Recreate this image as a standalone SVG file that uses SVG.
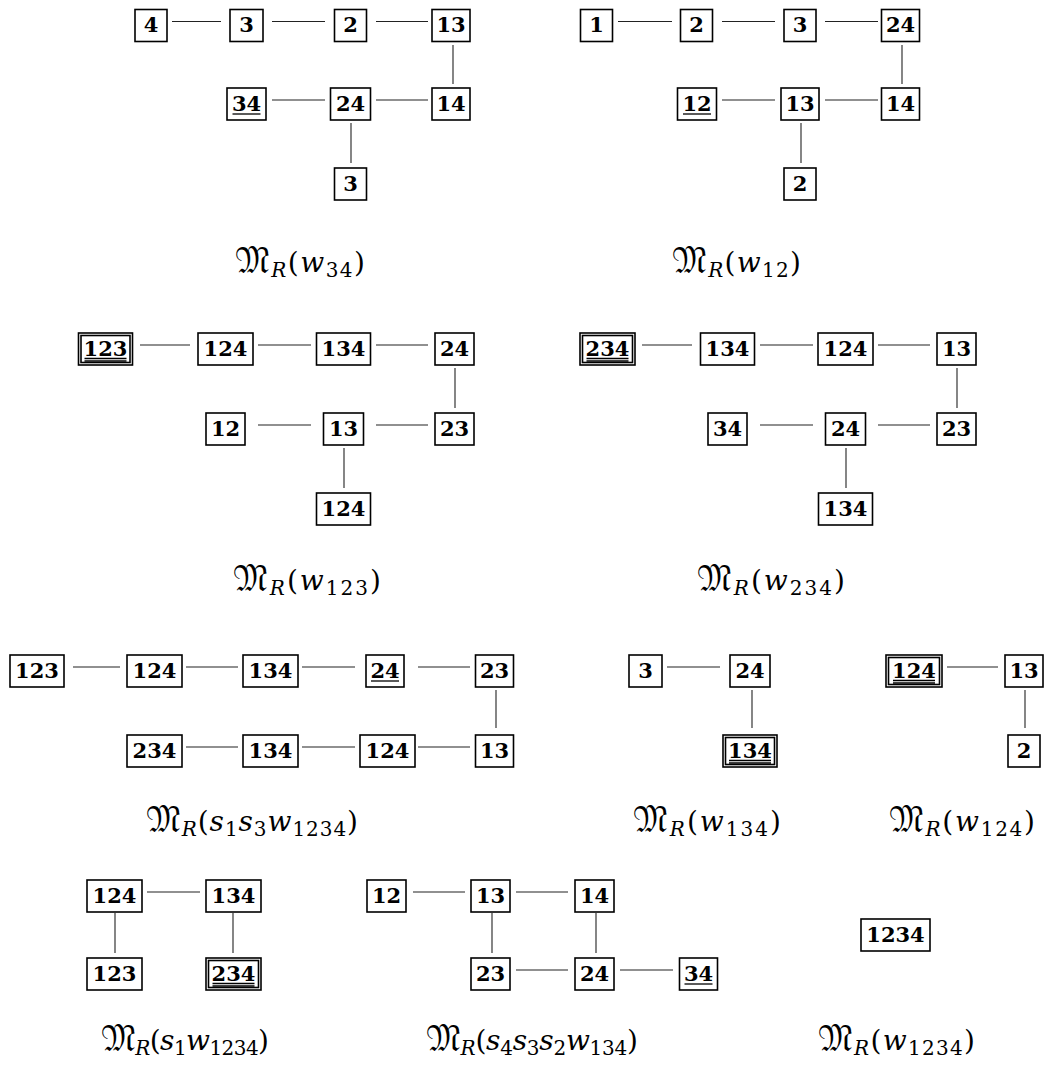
<svg xmlns="http://www.w3.org/2000/svg" width="1044" height="1070" viewBox="0 0 1044 1070">
<style>
.b{fill:#fff;stroke:#000;stroke-width:1.6}
.t{font-family:"DejaVu Serif",serif;font-weight:bold;font-size:21px;text-anchor:middle;fill:#000}
.u{stroke:#000;stroke-width:1.3}
.c line{stroke:#222;stroke-width:1.1}
.lab{font-family:"DejaVu Serif",serif;font-size:28px;fill:#000}
.it{font-style:italic}
.s{font-size:20px}
.fk{font-family:"DejaVu Serif","DejaVu Sans","Noto Sans Math",serif;font-size:35px}
</style>
<rect width="1044" height="1070" fill="#fff"/>
<g id="connectors" class="c">
<line x1="172" y1="21.5" x2="221" y2="21.5"/><line x1="272" y1="21.5" x2="325" y2="21.5"/><line x1="376" y1="21.5" x2="428" y2="21.5"/>
<line x1="272" y1="100" x2="325" y2="100"/><line x1="376" y1="100" x2="428" y2="100"/>
<line x1="453" y1="45" x2="453" y2="84"/><line x1="351" y1="123" x2="351" y2="163"/>
<line x1="618" y1="21.5" x2="672" y2="21.5"/><line x1="722" y1="21.5" x2="775" y2="21.5"/><line x1="825" y1="21.5" x2="878" y2="21.5"/>
<line x1="722" y1="100" x2="775" y2="100"/><line x1="825" y1="100" x2="878" y2="100"/>
<line x1="902" y1="45" x2="902" y2="84"/><line x1="801" y1="123" x2="801" y2="163"/>
<line x1="140" y1="345" x2="190" y2="345"/><line x1="258" y1="345" x2="311" y2="345"/><line x1="376" y1="345" x2="428" y2="345"/>
<line x1="258" y1="425" x2="311" y2="425"/><line x1="376" y1="425" x2="428" y2="425"/>
<line x1="455" y1="368" x2="455" y2="408"/><line x1="344" y1="448" x2="344" y2="488"/>
<line x1="642" y1="345" x2="692" y2="345"/><line x1="760" y1="345" x2="813" y2="345"/><line x1="878" y1="345" x2="930" y2="345"/>
<line x1="760" y1="425" x2="813" y2="425"/><line x1="878" y1="425" x2="930" y2="425"/>
<line x1="957" y1="368" x2="957" y2="408"/><line x1="846" y1="448" x2="846" y2="488"/>
<line x1="73" y1="667" x2="120" y2="667"/><line x1="186" y1="667" x2="238" y2="667"/><line x1="302" y1="667" x2="355" y2="667"/><line x1="418" y1="667" x2="470" y2="667"/>
<line x1="186" y1="747" x2="238" y2="747"/><line x1="302" y1="747" x2="355" y2="747"/><line x1="418" y1="747" x2="470" y2="747"/>
<line x1="496" y1="690" x2="496" y2="728"/>
<line x1="667" y1="667" x2="720" y2="667"/><line x1="752" y1="690" x2="752" y2="728"/>
<line x1="947" y1="667" x2="998" y2="667"/><line x1="1025" y1="690" x2="1025" y2="728"/>
<line x1="147" y1="892" x2="200" y2="892"/><line x1="115" y1="913" x2="115" y2="953"/><line x1="233" y1="913" x2="233" y2="953"/>
<line x1="413" y1="892" x2="465" y2="892"/><line x1="516" y1="892" x2="568" y2="892"/>
<line x1="516" y1="970" x2="568" y2="970"/><line x1="620" y1="970" x2="673" y2="970"/>
<line x1="492" y1="913" x2="492" y2="953"/><line x1="596" y1="913" x2="596" y2="953"/>
</g>
<g id="a4"><rect class="b" x="135" y="9.5" width="32" height="32"/><text class="t" x="151" y="32">4</text></g>
<g id="a3"><rect class="b" x="230" y="9.5" width="33" height="32"/><text class="t" x="246.5" y="32">3</text></g>
<g id="a2"><rect class="b" x="334.5" y="9.5" width="32" height="32"/><text class="t" x="350.5" y="32">2</text></g>
<g id="a13"><rect class="b" x="432" y="9.5" width="38" height="32"/><text class="t" x="451" y="32">13</text></g>
<g id="a34"><rect class="b" x="227" y="88" width="39" height="32"/><text class="t" x="246.5" y="110.5">34</text><line class="u" x1="232.5" y1="114" x2="260.5" y2="114"/></g>
<g id="a24"><rect class="b" x="330.5" y="88" width="40" height="32"/><text class="t" x="350.5" y="110.5">24</text></g>
<g id="a14"><rect class="b" x="432" y="88" width="38" height="32"/><text class="t" x="451" y="110.5">14</text></g>
<g id="a3b"><rect class="b" x="334.5" y="168" width="32" height="32"/><text class="t" x="350.5" y="190.5">3</text></g>
<g id="b1"><rect class="b" x="580.5" y="9.5" width="32" height="32"/><text class="t" x="596.5" y="32">1</text></g>
<g id="b2"><rect class="b" x="680.5" y="9.5" width="32" height="32"/><text class="t" x="696.5" y="32">2</text></g>
<g id="b3"><rect class="b" x="784" y="9.5" width="32" height="32"/><text class="t" x="800" y="32">3</text></g>
<g id="b24"><rect class="b" x="881.5" y="9.5" width="38" height="32"/><text class="t" x="900.5" y="32">24</text></g>
<g id="b12"><rect class="b" x="677.5" y="88" width="39" height="32"/><text class="t" x="697" y="110.5">12</text><line class="u" x1="683" y1="114" x2="711" y2="114"/></g>
<g id="b13"><rect class="b" x="781" y="88" width="38" height="32"/><text class="t" x="800" y="110.5">13</text></g>
<g id="b14"><rect class="b" x="881.5" y="88" width="38" height="32"/><text class="t" x="900.5" y="110.5">14</text></g>
<g id="b2b"><rect class="b" x="784" y="168" width="32" height="32"/><text class="t" x="800" y="190.5">2</text></g>
<g id="c123"><rect class="b" x="78.5" y="333" width="54" height="32"/><rect class="b" x="81" y="335.5" width="49" height="27"/><text class="t" x="105.5" y="355.5">123</text><line class="u" x1="84.5" y1="358.5" x2="126.5" y2="358.5"/><line class="u" x1="84.5" y1="361" x2="126.5" y2="361"/></g>
<g id="c124"><rect class="b" x="198" y="333" width="55" height="32"/><text class="t" x="225.5" y="355.5">124</text></g>
<g id="c134"><rect class="b" x="316.5" y="333" width="54" height="32"/><text class="t" x="343.5" y="355.5">134</text></g>
<g id="c24"><rect class="b" x="435" y="333" width="39" height="32"/><text class="t" x="454.5" y="355.5">24</text></g>
<g id="c12"><rect class="b" x="206" y="413" width="39" height="32"/><text class="t" x="225.5" y="435.5">12</text></g>
<g id="c13"><rect class="b" x="323.5" y="413" width="40" height="32"/><text class="t" x="343.5" y="435.5">13</text></g>
<g id="c23"><rect class="b" x="435" y="413" width="39" height="32"/><text class="t" x="454.5" y="435.5">23</text></g>
<g id="c124b"><rect class="b" x="316.5" y="493" width="54" height="32"/><text class="t" x="343.5" y="515.5">124</text></g>
<g id="d234"><rect class="b" x="580" y="333" width="55" height="32"/><rect class="b" x="582.5" y="335.5" width="50" height="27"/><text class="t" x="607.5" y="355.5">234</text><line class="u" x1="586.5" y1="358.5" x2="628.5" y2="358.5"/><line class="u" x1="586.5" y1="361" x2="628.5" y2="361"/></g>
<g id="d134"><rect class="b" x="700.5" y="333" width="54" height="32"/><text class="t" x="727.5" y="355.5">134</text></g>
<g id="d124"><rect class="b" x="818" y="333" width="55" height="32"/><text class="t" x="845.5" y="355.5">124</text></g>
<g id="d13"><rect class="b" x="937" y="333" width="39" height="32"/><text class="t" x="956.5" y="355.5">13</text></g>
<g id="d34"><rect class="b" x="708" y="413" width="39" height="32"/><text class="t" x="727.5" y="435.5">34</text></g>
<g id="d24"><rect class="b" x="825.5" y="413" width="40" height="32"/><text class="t" x="845.5" y="435.5">24</text></g>
<g id="d23"><rect class="b" x="937" y="413" width="39" height="32"/><text class="t" x="956.5" y="435.5">23</text></g>
<g id="d134b"><rect class="b" x="818.5" y="493" width="54" height="32"/><text class="t" x="845.5" y="515.5">134</text></g>
<g id="e123"><rect class="b" x="10" y="655" width="54" height="32"/><text class="t" x="37" y="677.5">123</text></g>
<g id="e124"><rect class="b" x="127" y="655" width="55" height="32"/><text class="t" x="154.5" y="677.5">124</text></g>
<g id="e134"><rect class="b" x="243" y="655" width="55" height="32"/><text class="t" x="270.5" y="677.5">134</text></g>
<g id="e24"><rect class="b" x="366" y="655" width="38" height="32"/><text class="t" x="385" y="677.5">24</text><line class="u" x1="371" y1="681" x2="399" y2="681"/></g>
<g id="e23"><rect class="b" x="475.5" y="655" width="38" height="32"/><text class="t" x="494.5" y="677.5">23</text></g>
<g id="e234"><rect class="b" x="127" y="735" width="55" height="32"/><text class="t" x="154.5" y="757.5">234</text></g>
<g id="e134b"><rect class="b" x="243" y="735" width="55" height="32"/><text class="t" x="270.5" y="757.5">134</text></g>
<g id="e124b"><rect class="b" x="360" y="735" width="55" height="32"/><text class="t" x="387.5" y="757.5">124</text></g>
<g id="e13"><rect class="b" x="475.5" y="735" width="38" height="32"/><text class="t" x="494.5" y="757.5">13</text></g>
<g id="f3"><rect class="b" x="629" y="655" width="33" height="32"/><text class="t" x="645.5" y="677.5">3</text></g>
<g id="f24"><rect class="b" x="730" y="655" width="40" height="32"/><text class="t" x="750" y="677.5">24</text></g>
<g id="f134"><rect class="b" x="723" y="735" width="54" height="32"/><rect class="b" x="725.5" y="737.5" width="49" height="27"/><text class="t" x="750" y="757.5">134</text><line class="u" x1="729" y1="760.5" x2="771" y2="760.5"/><line class="u" x1="729" y1="763" x2="771" y2="763"/></g>
<g id="g124"><rect class="b" x="886" y="655" width="56" height="32"/><rect class="b" x="888.5" y="657.5" width="51" height="27"/><text class="t" x="914" y="677.5">124</text><line class="u" x1="893" y1="680.5" x2="935" y2="680.5"/><line class="u" x1="893" y1="683" x2="935" y2="683"/></g>
<g id="g13"><rect class="b" x="1005" y="655" width="38" height="32"/><text class="t" x="1024" y="677.5">13</text></g>
<g id="g2"><rect class="b" x="1008" y="735" width="32" height="32"/><text class="t" x="1024" y="757.5">2</text></g>
<g id="h124"><rect class="b" x="87" y="880" width="55" height="32"/><text class="t" x="114.5" y="902.5">124</text></g>
<g id="h134"><rect class="b" x="206" y="880" width="55" height="32"/><text class="t" x="233.5" y="902.5">134</text></g>
<g id="h123"><rect class="b" x="87" y="958" width="55" height="32"/><text class="t" x="114.5" y="980.5">123</text></g>
<g id="h234"><rect class="b" x="206" y="958" width="55" height="32"/><rect class="b" x="208.5" y="960.5" width="50" height="27"/><text class="t" x="233.5" y="980.5">234</text><line class="u" x1="212.5" y1="983.5" x2="254.5" y2="983.5"/><line class="u" x1="212.5" y1="986" x2="254.5" y2="986"/></g>
<g id="i12"><rect class="b" x="367" y="880" width="39" height="32"/><text class="t" x="386.5" y="902.5">12</text></g>
<g id="i13"><rect class="b" x="471" y="880" width="39" height="32"/><text class="t" x="490.5" y="902.5">13</text></g>
<g id="i14"><rect class="b" x="575" y="880" width="39" height="32"/><text class="t" x="594.5" y="902.5">14</text></g>
<g id="i23"><rect class="b" x="471" y="958" width="39" height="32"/><text class="t" x="490.5" y="980.5">23</text></g>
<g id="i24"><rect class="b" x="575" y="958" width="39" height="32"/><text class="t" x="594.5" y="980.5">24</text></g>
<g id="i34"><rect class="b" x="679.5" y="958" width="38" height="32"/><text class="t" x="698.5" y="980.5">34</text><line class="u" x1="684.5" y1="984" x2="712.5" y2="984"/></g>
<g id="j1234"><rect class="b" x="861" y="919" width="69" height="32"/><text class="t" x="895.5" y="941.5">1234</text></g>
<g id="labels">
<text class="lab" x="235" y="272" textLength="130" lengthAdjust="spacing"><tspan class="fk">𝔐</tspan><tspan class="it s" dy="5">R</tspan><tspan dy="-5">(</tspan><tspan class="it">w</tspan><tspan class="s" dy="5">34</tspan><tspan dy="-5">)</tspan></text>
<text class="lab" x="672" y="272" textLength="129" lengthAdjust="spacing"><tspan class="fk">𝔐</tspan><tspan class="it s" dy="5">R</tspan><tspan dy="-5">(</tspan><tspan class="it">w</tspan><tspan class="s" dy="5">12</tspan><tspan dy="-5">)</tspan></text>
<text class="lab" x="233" y="590" textLength="148" lengthAdjust="spacing"><tspan class="fk">𝔐</tspan><tspan class="it s" dy="5">R</tspan><tspan dy="-5">(</tspan><tspan class="it">w</tspan><tspan class="s" dy="5">123</tspan><tspan dy="-5">)</tspan></text>
<text class="lab" x="697" y="590" textLength="148" lengthAdjust="spacing"><tspan class="fk">𝔐</tspan><tspan class="it s" dy="5">R</tspan><tspan dy="-5">(</tspan><tspan class="it">w</tspan><tspan class="s" dy="5">234</tspan><tspan dy="-5">)</tspan></text>
<text class="lab" x="146" y="831" textLength="212" lengthAdjust="spacing"><tspan class="fk">𝔐</tspan><tspan class="it s" dy="5">R</tspan><tspan dy="-5">(</tspan><tspan class="it">s</tspan><tspan class="s" dy="5">1</tspan><tspan class="it" dy="-5">s</tspan><tspan class="s" dy="5">3</tspan><tspan class="it" dy="-5">w</tspan><tspan class="s" dy="5">1234</tspan><tspan dy="-5">)</tspan></text>
<text class="lab" x="633" y="831" textLength="148" lengthAdjust="spacing"><tspan class="fk">𝔐</tspan><tspan class="it s" dy="5">R</tspan><tspan dy="-5">(</tspan><tspan class="it">w</tspan><tspan class="s" dy="5">134</tspan><tspan dy="-5">)</tspan></text>
<text class="lab" x="889" y="831" textLength="146" lengthAdjust="spacing"><tspan class="fk">𝔐</tspan><tspan class="it s" dy="5">R</tspan><tspan dy="-5">(</tspan><tspan class="it">w</tspan><tspan class="s" dy="5">124</tspan><tspan dy="-5">)</tspan></text>
<text class="lab" x="101" y="1050" textLength="168" lengthAdjust="spacing"><tspan class="fk">𝔐</tspan><tspan class="it s" dy="5">R</tspan><tspan dy="-5">(</tspan><tspan class="it">s</tspan><tspan class="s" dy="5">1</tspan><tspan class="it" dy="-5">w</tspan><tspan class="s" dy="5">1234</tspan><tspan dy="-5">)</tspan></text>
<text class="lab" x="426" y="1050" textLength="212" lengthAdjust="spacing"><tspan class="fk">𝔐</tspan><tspan class="it s" dy="5">R</tspan><tspan dy="-5">(</tspan><tspan class="it">s</tspan><tspan class="s" dy="5">4</tspan><tspan class="it" dy="-5">s</tspan><tspan class="s" dy="5">3</tspan><tspan class="it" dy="-5">s</tspan><tspan class="s" dy="5">2</tspan><tspan class="it" dy="-5">w</tspan><tspan class="s" dy="5">134</tspan><tspan dy="-5">)</tspan></text>
<text class="lab" x="818" y="1050" textLength="157" lengthAdjust="spacing"><tspan class="fk">𝔐</tspan><tspan class="it s" dy="5">R</tspan><tspan dy="-5">(</tspan><tspan class="it">w</tspan><tspan class="s" dy="5">1234</tspan><tspan dy="-5">)</tspan></text>
</g>
</svg>
